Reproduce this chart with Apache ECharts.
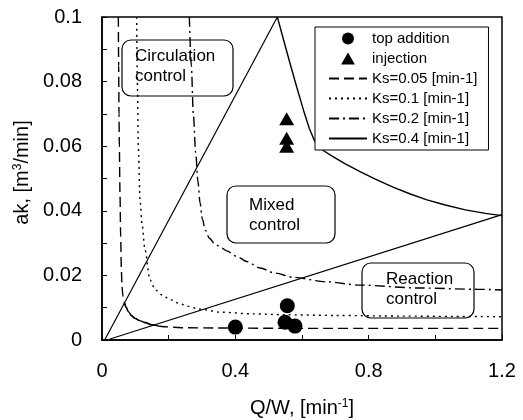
<!DOCTYPE html>
<html>
<head>
<meta charset="utf-8">
<script src="https://cdn.jsdelivr.net/npm/echarts@6/dist/echarts.min.js"></script>
<style>
  html, body { margin: 0; padding: 0; background: #fff; }
  #chart { width: 523px; height: 420px; }
</style>
</head>
<body>
<div id="chart"></div>
<script>
// Axis tick labels
const xTickLabels = [0, 0.4, 0.8, 1.2];
const yTickLabels = [0, 0.02, 0.04, 0.06, 0.08, 0.1];

// Measured points: [Q/W (1/min), ak (m3/min)]
const topAddition = [[0.400, 0.0040], [0.556, 0.0106], [0.549, 0.0055], [0.579, 0.0043]];
const injection = [[0.554, 0.0685], [0.554, 0.0625], [0.554, 0.0600]];

// Regime boundaries
const circulationBoundary = [[0.008, 0.0000], [0.526, 0.1000]];
const reactionBoundary = [[0.024, 0.0003], [1.200, 0.0388]];

// Model curves for each Ks
const ks005 = [[0.049, 0.100], [0.050, 0.085], [0.051, 0.070], [0.052, 0.060], [0.054, 0.045],
  [0.056, 0.032], [0.058, 0.022], [0.060, 0.0165], [0.063, 0.0135], [0.067, 0.0116],
  [0.073, 0.0100], [0.079, 0.0088], [0.089, 0.0075], [0.099, 0.0067], [0.113, 0.0060],
  [0.129, 0.0054], [0.149, 0.0047], [0.170, 0.0043], [0.189, 0.0041], [0.239, 0.0038],
  [0.350, 0.0037], [0.600, 0.0036], [0.900, 0.0036], [1.200, 0.0036]];
const ks01 = [[0.104, 0.100], [0.106, 0.080], [0.109, 0.060], [0.114, 0.0434], [0.120, 0.036],
  [0.129, 0.0279], [0.144, 0.0186], [0.160, 0.0155], [0.179, 0.0140], [0.205, 0.0125],
  [0.229, 0.0114], [0.260, 0.0104], [0.289, 0.0096], [0.359, 0.0086], [0.450, 0.0081],
  [0.550, 0.0078], [0.700, 0.0076], [0.900, 0.0074], [1.050, 0.0073], [1.200, 0.0072]];
const ks02 = [[0.262, 0.100], [0.268, 0.085], [0.274, 0.070], [0.281, 0.058], [0.288, 0.049],
  [0.294, 0.0425], [0.301, 0.0375], [0.310, 0.0340], [0.322, 0.0315], [0.340, 0.0296],
  [0.360, 0.0284], [0.374, 0.0276], [0.404, 0.0259], [0.434, 0.0243], [0.474, 0.0223],
  [0.520, 0.0207], [0.574, 0.0194], [0.674, 0.0180], [0.774, 0.0170], [0.950, 0.0161],
  [1.124, 0.0157], [1.200, 0.0155]];
const ks04 = [[0.526, 0.1000], [0.545, 0.0928], [0.565, 0.0853], [0.585, 0.0780], [0.605, 0.0710],
  [0.622, 0.0655], [0.637, 0.0618], [0.650, 0.0598], [0.665, 0.0586], [0.689, 0.0570],
  [0.730, 0.0545], [0.774, 0.0521], [0.820, 0.0498], [0.873, 0.0473], [0.925, 0.0452],
  [0.975, 0.0434], [1.030, 0.0418], [1.090, 0.0403], [1.150, 0.0392], [1.200, 0.0385]];

// Stretch of the Ks=0.05 curve drawn solid, across the mixed-control zone
const ks005SolidFrom = 0.067;
const ks005SolidTo = 0.17;

const FONT = 'Liberation Sans, Arial, sans-serif';
const BLACK = '#000';

const chart = echarts.init(document.getElementById('chart'), null, { renderer: 'canvas' });

function curve(name, data, type, z, smooth) {
  return {
    name: name,
    type: 'line',
    data: data,
    symbol: 'none',
    smooth: smooth === undefined ? 0.3 : smooth,
    smoothMonotone: 'x',
    z: z || 2,
    silent: true,
    lineStyle: { color: BLACK, width: 1.4, type: type },
    itemStyle: { color: BLACK }
  };
}

function pickLabel(list, v) {
  const hit = list.find(t => Math.abs(t - v) < 1e-9);
  return hit === undefined ? '' : String(hit);
}

function box(x, y, w, h, text, tx, ty) {
  return {
    type: 'group',
    z: 10,
    children: [
      { type: 'rect', shape: { x: x, y: y, width: w, height: h, r: 9 },
        style: { fill: '#fff', stroke: BLACK, lineWidth: 1.2 } },
      { type: 'text', x: tx, y: ty,
        style: { text: text, font: '17px ' + FONT, fill: BLACK, lineHeight: 20,
                 verticalAlign: 'top', align: 'left' } }
    ]
  };
}

// Legend entries: markers keep their shape, line entries show only the stroke
const lineLegend = name => ({ name: name, itemStyle: { opacity: 0 } });

const option = {
  animation: false,
  backgroundColor: '#fff',
  textStyle: { fontFamily: FONT, color: BLACK },
  grid: {
    left: 102, right: 21, top: 17, bottom: 80,
    outerBoundsMode: 'none', containLabel: false,
    show: true, borderColor: BLACK, borderWidth: 1.5, backgroundColor: 'transparent'
  },
  legend: {
    data: [
      { name: 'top addition' },
      { name: 'injection', icon: 'path://M0,13L7.5,0L15,13Z' },
      lineLegend('Ks=0.05 [min-1]'),
      lineLegend('Ks=0.1 [min-1]'),
      lineLegend('Ks=0.2 [min-1]'),
      lineLegend('Ks=0.4 [min-1]')
    ],
    orient: 'vertical',
    left: 315, top: 27,
    padding: [4, 11, 4, 13],
    itemGap: 5,
    itemWidth: 38,
    itemHeight: 12,
    backgroundColor: '#fff',
    borderColor: BLACK,
    borderWidth: 1,
    borderRadius: 0,
    z: 8,
    selectedMode: false,
    textStyle: { fontFamily: FONT, fontSize: 15, color: BLACK, lineHeight: 14 }
  },
  xAxis: {
    type: 'value', min: 0, max: 1.2, interval: 0.2,
    name: 'Q/W, [min{sup|-1}]',
    nameLocation: 'middle', nameGap: 58,
    nameTextStyle: {
      fontFamily: FONT, fontSize: 20, color: BLACK,
      rich: { sup: { fontFamily: FONT, fontSize: 12, color: BLACK, verticalAlign: 'top', lineHeight: 12 } }
    },
    axisLine: { lineStyle: { color: BLACK, width: 1.5 } },
    axisTick: { inside: true, length: 5, lineStyle: { color: BLACK, width: 1 } },
    splitLine: { show: false },
    axisLabel: { fontFamily: FONT, fontSize: 20, color: BLACK, margin: 21,
                 formatter: v => pickLabel(xTickLabels, v) }
  },
  yAxis: {
    type: 'value', min: 0, max: 0.1, interval: 0.01,
    name: 'ak, [m{sup|3}/min]',
    nameLocation: 'middle', nameGap: 62,
    nameTextStyle: {
      fontFamily: FONT, fontSize: 20, color: BLACK, padding: [0, 0, 0, 12],
      rich: { sup: { fontFamily: FONT, fontSize: 12, color: BLACK, verticalAlign: 'top', lineHeight: 12 } }
    },
    axisLine: { lineStyle: { color: BLACK, width: 1.5 } },
    axisTick: { inside: true, length: 5, lineStyle: { color: BLACK, width: 1 } },
    splitLine: { show: false },
    axisLabel: { fontFamily: FONT, fontSize: 20, color: BLACK, margin: 20,
                 formatter: v => pickLabel(yTickLabels, v) }
  },
  graphic: [
    box(122, 40, 111, 56, 'Circulation\ncontrol', 135, 46),
    box(227, 186, 108, 57, 'Mixed\ncontrol', 249, 195),
    box(362, 263, 112, 55, 'Reaction\ncontrol', 386, 269)
  ],
  series: [
    { type: 'line', data: circulationBoundary, symbol: 'none', silent: true,
      lineStyle: { color: BLACK, width: 1.2 }, z: 2 },
    { type: 'line', data: reactionBoundary, symbol: 'none', silent: true,
      lineStyle: { color: BLACK, width: 1.2 }, z: 2 },
    curve('Ks=0.05 [min-1]', ks005, [10, 5]),
    Object.assign(curve('', ks005.filter(p => p[0] >= ks005SolidFrom && p[0] <= ks005SolidTo), 'solid', 3),
                  { name: undefined }),
    curve('Ks=0.1 [min-1]', ks01, [2, 4]),
    curve('Ks=0.2 [min-1]', ks02, [10, 4, 2, 4]),
    curve('Ks=0.4 [min-1]', ks04, 'solid', 2, false),
    { name: 'top addition', type: 'scatter', data: topAddition, symbol: 'circle', symbolSize: 15,
      itemStyle: { color: BLACK, opacity: 1 }, z: 5, silent: true },
    { name: 'injection', type: 'scatter', data: injection, symbol: 'triangle', symbolSize: [15, 13],
      itemStyle: { color: BLACK, opacity: 1 }, z: 5, silent: true }
  ]
};

chart.setOption(option);
</script>
</body>
</html>
